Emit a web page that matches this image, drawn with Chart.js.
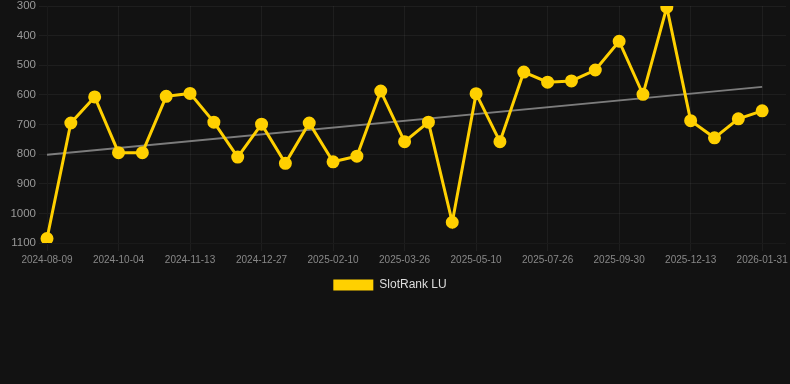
<!DOCTYPE html>
<html>
<head>
<meta charset="utf-8">
<script src="https://cdn.jsdelivr.net/npm/chart.js@4/dist/chart.umd.min.js"></script>
<style>
  html, body { margin: 0; padding: 0; background: #121212; }
  #wrap { position: relative; width: 790px; height: 301px; }
</style>
</head>
<body>
<div id="wrap"><canvas id="rankChart"></canvas></div>
<script>
const dates = [
  '2024-08-09', '2024-08-28', '2024-09-16', '2024-10-04', '2024-10-17', '2024-10-30',
  '2024-11-13', '2024-11-27', '2024-12-12', '2024-12-27', '2025-01-11', '2025-01-26',
  '2025-02-10', '2025-02-24', '2025-03-11', '2025-03-26', '2025-04-10', '2025-04-25',
  '2025-05-10', '2025-06-04', '2025-06-30', '2025-07-26', '2025-08-16', '2025-09-08',
  '2025-09-30', '2025-10-25', '2025-11-19', '2025-12-13', '2025-12-29', '2026-01-15',
  '2026-01-31', '2026-02-16'
];
const ranks = [
  1085, 695, 607, 795, 795, 605, 595, 692, 810, 699, 831, 695,
  826, 807, 587, 758, 692, 1030, 596, 758, 523, 557, 553, 516,
  419, 598, 304, 687, 745, 681, 654, null
];
// trend line: only the two ends, joined straight
const trend = [802, ...Array(29).fill(null), 573, null];
const yTicks = { min: 300, max: 1100, step: 100 };

const gold = '#ffd000';

// nudge the legend a little left, like the original
const legendShift = {
  id: 'legendShift',
  afterLayout(chart) {
    chart.legend.left -= 5;
    chart.legend.right -= 5;
  }
};

new Chart(document.getElementById('rankChart'), {
  type: 'line',
  data: {
    labels: dates,
    datasets: [
      {
        label: 'SlotRank LU',
        data: ranks,
        borderColor: gold,
        backgroundColor: gold,
        borderWidth: 3,
        pointRadius: 5,
        pointHoverRadius: 6,
        pointBackgroundColor: gold,
        pointBorderColor: gold,
        tension: 0,
      },
      {
        label: 'trend',
        data: trend,
        borderColor: 'rgba(160,160,160,0.75)',
        borderWidth: 2,
        pointRadius: 0,
        spanGaps: true,
        tension: 0,
      }
    ]
  },
  plugins: [legendShift],
  options: {
    responsive: true,
    maintainAspectRatio: false,
    animation: false,
    layout: { autoPadding: false },
    plugins: {
      legend: {
        position: 'bottom',
        labels: {
          color: '#dddddd',
          font: { size: 12 },
          boxWidth: 40,
          boxHeight: 11,
          generateLabels: c =>
            Chart.defaults.plugins.legend.labels.generateLabels(c)
              .filter(it => it.text !== 'trend')
              .map(it => ({ ...it, lineWidth: 0 }))
        }
      },
      tooltip: { enabled: false }
    },
    scales: {
      x: {
        grid: { color: 'rgba(255,255,255,0.05)' },
        ticks: {
          color: '#888888',
          font: { size: 10 },
          autoSkip: false,
          maxRotation: 0,
          callback: function (val, i) {
            return i % 3 === 0 ? this.getLabelForValue(val) : null;
          }
        },
        afterFit: s => { s.paddingRight = 4; }
      },
      y: {
        reverse: true,
        min: yTicks.min,
        max: yTicks.max,
        grid: { color: 'rgba(255,255,255,0.05)' },
        ticks: {
          color: '#999999',
          font: { size: 11.5 },
          stepSize: yTicks.step,
          callback: v => String(v)
        },
        afterFit: s => { s.width = 47; s.paddingTop = 6; }
      }
    }
  }
});
</script>
</body>
</html>
